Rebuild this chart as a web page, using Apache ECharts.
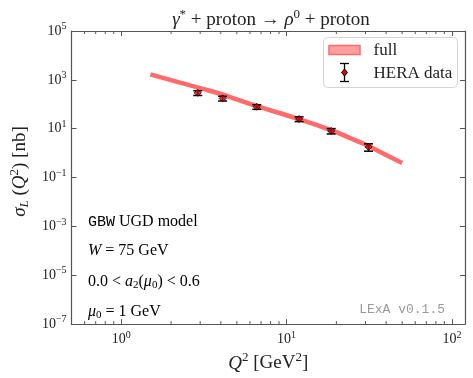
<!DOCTYPE html>
<html>
<head>
<meta charset="utf-8">
<script src="https://cdn.jsdelivr.net/npm/echarts@6/dist/echarts.min.js"></script>
<style>
html, body { margin: 0; padding: 0; background: #fff; }
#chart { width: 473px; height: 378px; }
</style>
</head>
<body>
<div id="chart"></div>
<script>
// model curve (GBW UGD, band drawn as thick line)
const curveQ2 = [1.5, 2, 3, 4, 5, 7, 10, 15, 20, 25, 30, 40, 50];
const curveSigma = [1680, 977, 457, 263, 158, 74, 35.5, 14.6, 7.2, 3.77, 2.24, 0.84, 0.39];
// HERA data points
const heraQ2 = [2.9, 4.1, 6.6, 11.9, 18.6, 31.3];
const heraSigma = [294, 174, 79, 25, 8.1, 1.8];
const heraErr = [65, 38, 17, 5.5, 2.0, 0.6];
// axes
const xRange = [0.5, 120];
const yRange = [1e-7, 1e5];
const xMinorTicks = [0.6, 0.7, 0.8, 0.9, 2, 3, 4, 5, 6, 7, 8, 9, 20, 30, 40, 50, 60, 70, 80, 90];

const SERIF = '"Liberation Serif", "DejaVu Serif", serif';
const MONO = '"Liberation Mono", "DejaVu Sans Mono", monospace';
const AX = '#555';

function mkRich(size) {
  const s = Math.round(size * 0.66);
  const up = Math.round(size * 0.6);
  const dn = Math.round(size * 0.45);
  return {
    n: { fontFamily: SERIF, fontSize: size, fontWeight: 'normal', color: '#222' },
    i: { fontFamily: SERIF, fontSize: size, fontWeight: 'normal', fontStyle: 'italic', color: '#222' },
    tt: { fontFamily: MONO, fontSize: size - 1, color: '#222' },
    sup: { fontFamily: SERIF, fontSize: s, fontWeight: 'normal', color: '#222', padding: [0, 0, up, 0] },
    sub: { fontFamily: SERIF, fontSize: s, fontWeight: 'normal', color: '#222', padding: [dn, 0, 0, 0] },
    isub: { fontFamily: SERIF, fontSize: s, fontWeight: 'normal', fontStyle: 'italic', color: '#222', padding: [dn, 0, 0, 0] }
  };
}
const tickRich = {
  b: { fontFamily: SERIF, fontSize: 14, color: '#222' },
  s: { fontFamily: SERIF, fontSize: 10, color: '#222', padding: [0, 0, 9, 0] }
};

function powLabel(v) {
  const l = Math.log10(v);
  const e = Math.round(l);
  if (Math.abs(l - e) > 1e-6) return '';
  return '{b|10}{s|' + (e < 0 ? '\u2212' + (-e) : e) + '}';
}

function logAxis(range, extra) {
  return Object.assign({
    type: 'log',
    logBase: 10,
    min: range[0],
    max: range[1],
    axisLine: { show: true, lineStyle: { color: AX, width: 1.2 } },
    axisTick: { show: true, inside: true, length: 5, lineStyle: { color: AX, width: 1 } },
    splitLine: { show: false },
    axisLabel: { show: false }
  }, extra);
}

// dotted hatch for the legend swatch
const hatch = document.createElement('canvas');
hatch.width = 4; hatch.height = 4;
(function () {
  const c = hatch.getContext('2d');
  c.fillStyle = '#ff8a8a';
  c.fillRect(0, 0, 4, 4);
  c.fillStyle = '#ffe4e4';
  c.fillRect(0, 1, 1, 1); c.fillRect(2, 1, 1, 1);
  c.fillRect(1, 3, 1, 1); c.fillRect(3, 3, 1, 1);
})();

const textRich = mkRich(16);
const chart = echarts.init(document.getElementById('chart'));
chart.setOption({
  animation: false,
  title: {
    text: '{i|γ}{sup|*}{n| + proton → }{i|ρ}{sup|0}{n| + proton}',
    left: 266, top: 3, textAlign: 'center',
    textStyle: { fontWeight: 'normal', rich: mkRich(19) }
  },
  grid: { left: 68, right: 8, top: 31, bottom: 53 },
  xAxis: [
    logAxis(xRange, {
      position: 'bottom',
      axisLabel: { show: true, formatter: powLabel, margin: 6, rich: tickRich },
      name: '{i|Q}{sup|2}{n| [GeV}{sup|2}{n|]}',
      nameLocation: 'middle', nameGap: 24,
      nameTextStyle: { rich: mkRich(19) }
    }),
    logAxis(xRange, { position: 'top' })
  ],
  yAxis: [
    logAxis(yRange, {
      position: 'left', interval: 2,
      axisLabel: { show: true, formatter: powLabel, margin: 5, rich: tickRich },
      name: '{i|σ}{isub|L}{n| (}{i|Q}{sup|2}{n|) [nb]}',
      nameLocation: 'middle', nameGap: 36, nameRotate: 90,
      nameTextStyle: { rich: mkRich(19), padding: [0, 0, 0, 12] }
    }),
    logAxis(yRange, { position: 'right', interval: 2 })
  ],
  graphic: [
    {
      type: 'group', left: 88, top: 214,
      children: [
        { type: 'text', x: 0, y: 0, style: { text: '{tt|GBW}{n| UGD model}', rich: textRich } },
        { type: 'text', x: 0, y: 29, style: { text: '{i|W}{n| = 75 GeV}', rich: textRich } },
        { type: 'text', x: 0, y: 59, style: { text: '{n|0.0 < }{i|a}{sub|2}{n|(}{i|μ}{sub|0}{n|) < 0.6}', rich: textRich } },
        { type: 'text', x: 0, y: 89, style: { text: '{i|μ}{sub|0}{n| = 1 GeV}', rich: textRich } }
      ]
    },
    {
      type: 'text', right: 28, top: 303,
      style: { text: 'LExA v0.1.5', fontFamily: MONO, fontSize: 13, fill: '#999' }
    },
    {
      type: 'group', left: 323, top: 37,
      children: [
        { type: 'rect', shape: { x: 0, y: 0, width: 134, height: 50, r: 4 },
          style: { fill: 'rgba(255,255,255,0.85)', stroke: '#d4d4d4', lineWidth: 1 } },
        { type: 'rect', shape: { x: 5.5, y: 8, width: 31, height: 9 },
          style: { fill: { image: hatch, repeat: 'repeat' }, stroke: '#ff6b6b', lineWidth: 1.5 } },
        { type: 'text', x: 50, y: 13, style: { text: 'full', fontFamily: SERIF, fontSize: 17, fill: '#222', verticalAlign: 'middle' } },
        { type: 'line', shape: { x1: 21, y1: 26, x2: 21, y2: 44 }, style: { stroke: '#000', lineWidth: 1.3 } },
        { type: 'line', shape: { x1: 16.5, y1: 26, x2: 25.5, y2: 26 }, style: { stroke: '#000', lineWidth: 1.3 } },
        { type: 'line', shape: { x1: 16.5, y1: 44, x2: 25.5, y2: 44 }, style: { stroke: '#000', lineWidth: 1.3 } },
        { type: 'polygon', shape: { points: [[21, 31.5], [24, 35], [21, 38.5], [18, 35]] },
          style: { fill: '#e00000', stroke: '#000', lineWidth: 1 } },
        { type: 'text', x: 50, y: 36, style: { text: 'HERA data', fontFamily: SERIF, fontSize: 17, fill: '#222', verticalAlign: 'middle' } }
      ]
    }
  ],
  series: [
    {
      name: 'full',
      type: 'line',
      smooth: true,
      symbol: 'none',
      data: curveQ2.map((q, i) => [q, curveSigma[i]]),
      lineStyle: { color: '#ff6262', width: 4.5, opacity: 0.95 },
      z: 2
    },
    {
      name: 'HERA data errors',
      type: 'custom',
      data: heraQ2.map((q, i) => [q, heraSigma[i] - heraErr[i], heraSigma[i] + heraErr[i]]),
      encode: { x: 0, y: [1, 2] },
      renderItem: (params, api) => {
        const lo = api.coord([api.value(0), api.value(1)]);
        const hi = api.coord([api.value(0), api.value(2)]);
        const st = { stroke: '#000', lineWidth: 1.5 };
        return { type: 'group', children: [
          { type: 'line', shape: { x1: lo[0], y1: lo[1], x2: hi[0], y2: hi[1] }, style: st },
          { type: 'line', shape: { x1: lo[0] - 4.5, y1: lo[1], x2: lo[0] + 4.5, y2: lo[1] }, style: st },
          { type: 'line', shape: { x1: hi[0] - 4.5, y1: hi[1], x2: hi[0] + 4.5, y2: hi[1] }, style: st }
        ] };
      },
      z: 3
    },
    {
      name: 'HERA data',
      type: 'scatter',
      symbol: 'diamond',
      symbolSize: 7,
      data: heraQ2.map((q, i) => [q, heraSigma[i]]),
      itemStyle: { color: '#e00000', borderColor: '#000', borderWidth: 1 },
      z: 4
    },
    {
      name: 'minor ticks',
      type: 'custom',
      silent: true,
      clip: false,
      data: xMinorTicks.map(v => [v, yRange[0]]),
      renderItem: (params, api) => {
        const x = api.coord([api.value(0), yRange[0]])[0];
        const cs = params.coordSys;
        const st = { stroke: AX, lineWidth: 1 };
        return { type: 'group', children: [
          { type: 'line', shape: { x1: x, y1: cs.y + cs.height, x2: x, y2: cs.y + cs.height - 3 }, style: st },
          { type: 'line', shape: { x1: x, y1: cs.y, x2: x, y2: cs.y + 3 }, style: st }
        ] };
      },
      z: 5
    }
  ]
});
window.addEventListener('resize', () => chart.resize());
</script>
</body>
</html>
